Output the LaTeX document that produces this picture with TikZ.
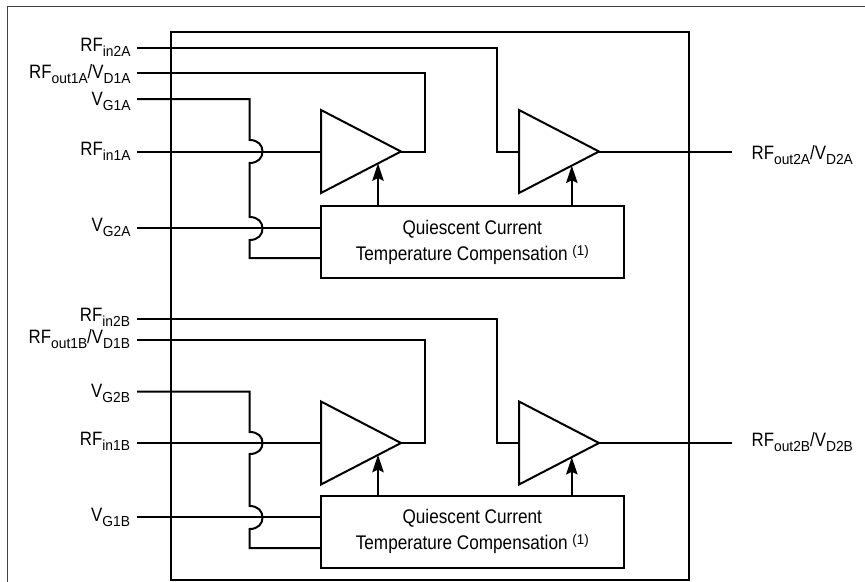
\documentclass[tikz,border=0pt]{standalone}
\usepackage{fontspec}
\setmainfont[FakeStretch=0.87]{Liberation Sans}
\newfontfamily\subfont[FakeStretch=0.95]{Liberation Sans}
\usetikzlibrary{arrows.meta,calc,shapes.geometric}
\newcommand{\lowtxt}[1]{\raisebox{-3.75pt}{\fontsize{10.9}{12}\subfont #1}}
\newcommand{\noteref}[1]{\raisebox{3.75pt}{\fontsize{10.5}{12}\subfont #1}}
\tikzset{
  wire/.style={line width=1.5pt,line join=miter},
  frameline/.style={line width=0.75pt,draw=black!75},
  chip/.style={line width=1.5pt},
  lbl/.style={inner sep=0pt,outer sep=0pt,font=\fontsize{14.5}{16}\selectfont},
  lleft/.style={lbl,anchor=base east},
  lright/.style={lbl,anchor=base west},
  amp/.style={draw,line width=1.5pt,isosceles triangle,isosceles triangle stretches=true,
    minimum width=62.25pt,minimum height=60pt,inner sep=0pt,outer sep=0pt,anchor=lower side,line join=miter},
  comp/.style={draw,line width=1.5pt,rectangle,minimum width=226.9pt,minimum height=54pt,inner sep=0pt,outer sep=0pt,
    align=center,font=\fontsize{14.8}{19.5}\selectfont},
  jump/.style={to path={.. controls +(9,0) and +(0,-6) .. ($(\tikztostart)!.5!(\tikztotarget)+(13,0)$)
    .. controls +(0,6) and +(9,0) .. (\tikztotarget) \tikztonodes}},
  bias/.style={wire,-{Stealth[length=13pt,width=8.5pt,inset=2pt]}}
}
\begin{document}
\begin{tikzpicture}[x=0.75pt,y=-0.75pt]
\useasboundingbox (0,0) rectangle (865,582);
\draw[frameline] (865,6) -- (7.5,6) -- (7.5,582);
\draw[chip] (171,31.5) rectangle (689,580);

% upper section
\node[amp] (a1) at (321,151.5) {};
\node[amp] (a2) at (519,151.5) {};
\node[comp] (c1) at (472.25,242) {Quiescent Current\\Temperature Compensation \noteref{(1)}};
% lower section
\node[amp] (b1) at (321,443) {};
\node[amp] (b2) at (519,443) {};
\node[comp] (c2) at (472.25,531.75) {Quiescent Current\\Temperature Compensation \noteref{(1)}};

% labels
\node[lleft] (l1) at (130.5,51.7) {RF\lowtxt{in2A}};
\node[lleft] (l2) at (130.5,78.3) {RF\lowtxt{out1A}/V\lowtxt{D1A}};
\node[lleft] (l3) at (130.5,105) {V\lowtxt{G1A}};
\node[lleft] (l4) at (130.5,155) {RF\lowtxt{in1A}};
\node[lleft] (l5) at (130.5,231.7) {V\lowtxt{G2A}};
\node[lleft] (l6) at (130,321.7) {RF\lowtxt{in2B}};
\node[lleft] (l7) at (130,343) {RF\lowtxt{out1B}/V\lowtxt{D1B}};
\node[lleft] (l8) at (130,397.5) {V\lowtxt{G2B}};
\node[lleft] (l9) at (130,445) {RF\lowtxt{in1B}};
\node[lleft] (l10) at (130,521.7) {V\lowtxt{G1B}};
\node[lright] (r1) at (751.7,159) {RF\lowtxt{out2A}/V\lowtxt{D2A}};
\node[lright] (r2) at (751.7,446.7) {RF\lowtxt{out2B}/V\lowtxt{D2B}};

% pins
\coordinate (p1) at (137,47.5);
\coordinate (p2) at (137,73);
\coordinate (p3) at (137,99);
\coordinate (p4) at (137,151.5);
\coordinate (p5) at (137,228);
\coordinate (p6) at (137,318.5);
\coordinate (p7) at (137,339.5);
\coordinate (p8) at (137,391.5);
\coordinate (p9) at (137,443);
\coordinate (p10) at (137,517);
\coordinate (o1) at (732,151.5);
\coordinate (o2) at (732,443);

% upper wires
\draw[wire] (p1) -- (497,47.5) -- (497,151.5) -- (a2.lower side);
\draw[wire] (p2) -- (425,73) -- (425,151.5) -- (a1.apex);
\draw[wire] (p4) -- (a1.lower side);
\draw[wire] (p5) -- (p5 -| c1.west);
\draw[wire] (a2.apex) -- (o1);
\draw[wire] (p3) -- (249.5,99) -- (249.5,140) to[jump] (249.5,163) -- (249.5,217) to[jump] (249.5,240)
  -- (249.5,258) -- (321,258);
\coordinate (t1) at ($(a1.apex)!0.2875!(a1.right corner)$);
\coordinate (t2) at ($(a2.apex)!0.34!(a2.right corner)$);
\draw[bias] (t1 |- c1.north) -- (t1);
\draw[bias] (t2 |- c1.north) -- (t2);

% lower wires
\draw[wire] (p6) -- (497,318.5) -- (497,443) -- (b2.lower side);
\draw[wire] (p7) -- (425,339.5) -- (425,443) -- (b1.apex);
\draw[wire] (p9) -- (b1.lower side);
\draw[wire] (p10) -- (p10 -| c2.west);
\draw[wire] (b2.apex) -- (o2);
\draw[wire] (p8) -- (249.5,391.5) -- (249.5,432) to[jump] (249.5,454) -- (249.5,506) to[jump] (249.5,529)
  -- (249.5,548) -- (321,548);
\coordinate (t3) at ($(b1.apex)!0.2875!(b1.right corner)$);
\coordinate (t4) at ($(b2.apex)!0.34!(b2.right corner)$);
\draw[bias] (t3 |- c2.north) -- (t3);
\draw[bias] (t4 |- c2.north) -- (t4);
\end{tikzpicture}
\end{document}
